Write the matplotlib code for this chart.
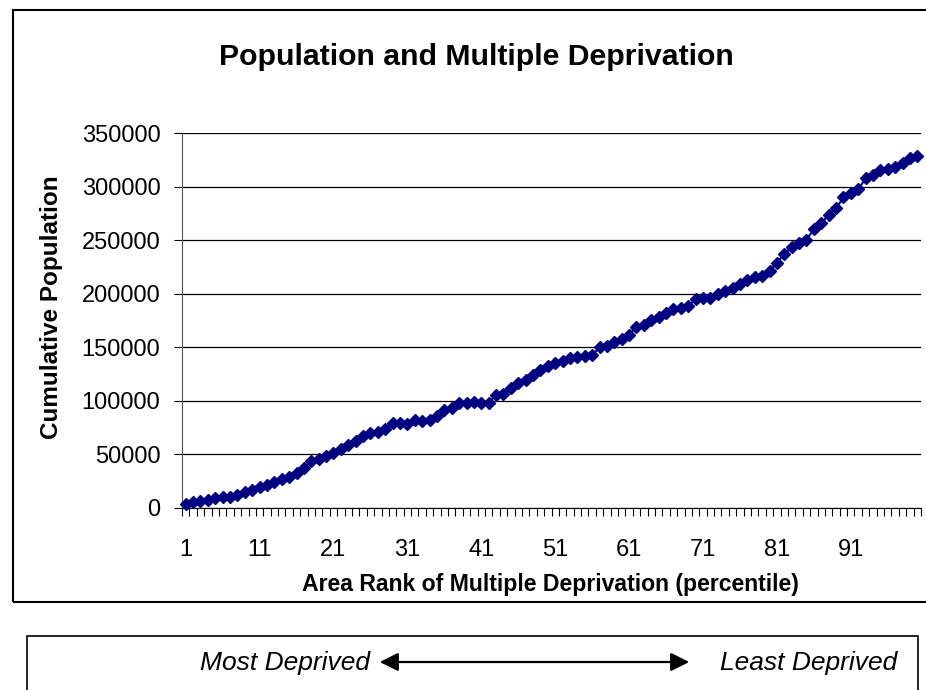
import numpy as np
import matplotlib
matplotlib.use("Agg")
import matplotlib.pyplot as plt
from matplotlib.patches import Rectangle, FancyArrowPatch

plt.rcParams['font.family'] = ['Liberation Sans', 'DejaVu Sans']

# cumulative population by area rank percentile
ranks = np.arange(1, 101)
cum_pop = [
  3700, 5300, 6800, 7400, 9700, 10600, 10600, 12500, 14600, 16800,
  19900, 21400, 24500, 27100, 29200, 32300, 37000, 43900, 45800, 48500,
  51600, 55000, 58700, 62300, 67200, 69700, 71200, 73400, 79100, 79600,
  78400, 82100, 81500, 82100, 85800, 91400, 93000, 98300, 97700, 99200,
  98300, 98300, 105400, 106300, 111600, 116400, 119400, 124100, 128700, 132500,
  135000, 137400, 139700, 140600, 141800, 142700, 149900, 151200, 155200, 157400,
  161900, 169200, 170800, 175400, 178500, 182300, 185400, 186300, 188500, 194700,
  195600, 195600, 199700, 202800, 205200, 208700, 212700, 215200, 216400, 221400,
  228800, 237000, 243800, 247500, 250600, 260000, 266100, 273400, 279600, 289900,
  293600, 297300, 307600, 310700, 315300, 316000, 318400, 322200, 326300, 328400,
]
x_labels = [1, 11, 21, 31, 41, 51, 61, 71, 81, 91]
y_ticks = [0, 50000, 100000, 150000, 200000, 250000, 300000, 350000]

W, H = 926, 690
fig = plt.figure(figsize=(W / 100, H / 100), dpi=100)

def px(x, y):
  # pixel (from top-left) -> figure fraction
  return x / W, 1 - y / H

# outer chart frame (right edge runs off the image)
fig.patches.append(Rectangle(px(13, 602), 930 / W, (602 - 10) / H, transform=fig.transFigure,
                             fill=False, edgecolor='black', linewidth=1.5, clip_on=False))
# legend frame at the bottom
fig.patches.append(Rectangle(px(27, 695), (918 - 27) / W, (695 - 636) / H, transform=fig.transFigure,
                             fill=False, edgecolor='black', linewidth=1.2, clip_on=False))

left, right, top, bottom = 182, 921, 133, 508
ax = fig.add_axes([left / W, 1 - bottom / H, (right - left) / W, (bottom - top) / H])

ax.plot(ranks, cum_pop, color='#000080', linewidth=1.5, marker='D', markersize=6.3,
        markerfacecolor='#000080', markeredgecolor='#000080', clip_on=False, zorder=3)

ax.set_xlim(0.5, 100.5)
ax.set_ylim(0, 350000)

ax.set_yticks(y_ticks)
ax.set_yticklabels([str(v) for v in y_ticks])
ax.yaxis.grid(True, color='black', linewidth=0.9)
ax.set_axisbelow(True)

ax.set_xticks(x_labels)
ax.set_xticklabels([str(v) for v in x_labels])
ax.set_xticks(np.arange(0.5, 101, 1), minor=True)
ax.tick_params(axis='x', which='major', length=0, pad=22, labelsize=17)
ax.tick_params(axis='x', which='minor', length=5.5, width=0.8, direction='out')
ax.tick_params(axis='y', length=5.5, width=0.8, pad=10, labelsize=17)

for s in ['top', 'right']:
  ax.spines[s].set_visible(False)
ax.spines['left'].set_color('#555555')
ax.spines['bottom'].set_color('black')

fig.text(*px(476, 57), 'Population and Multiple Deprivation', ha='center', va='center',
         fontsize=21.8, fontweight='bold')
fig.text(*px(550, 585), 'Area Rank of Multiple Deprivation (percentile)', ha='center', va='center',
         fontsize=16.6, fontweight='bold')
fig.text(*px(52, 307), 'Cumulative Population', ha='center', va='center', rotation=90,
         fontsize=17.5, fontweight='bold')

# bottom legend: direction of deprivation
fig.text(*px(370, 663), 'Most Deprived', ha='right', va='center', fontsize=19, style='italic')
fig.text(*px(897, 663), 'Least Deprived', ha='right', va='center', fontsize=19, style='italic')
arrow = FancyArrowPatch(px(377, 662), px(692, 662), transform=fig.transFigure,
                        arrowstyle='<|-|>,head_length=8,head_width=4', color='black',
                        linewidth=1.6, mutation_scale=1.4)
fig.patches.append(arrow)

fig.savefig('out.png', dpi=100)
